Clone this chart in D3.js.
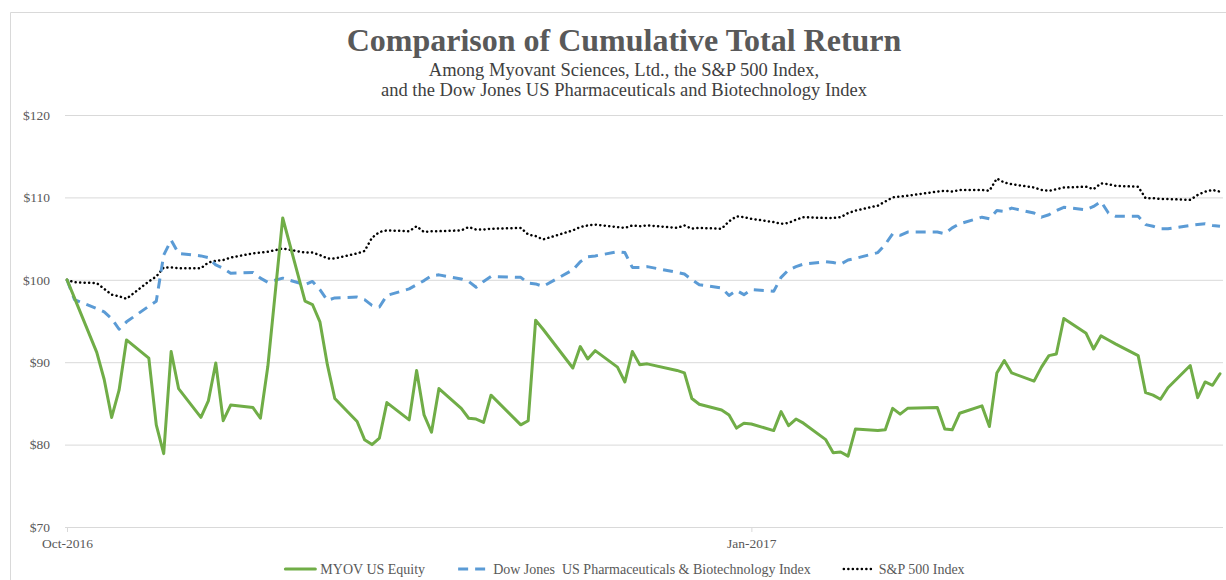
<!DOCTYPE html>
<html>
<head>
<meta charset="utf-8">
<script src="https://cdn.jsdelivr.net/npm/d3@7"></script>
<style>
  body { margin: 0; background: #fff; }
  svg { display: block; }
</style>
</head>
<body>
<svg id="chart"></svg>
<script>
// Data (trading days, value of $100 invested)
const dates = [
  "2016-10-27","2016-10-28","2016-10-31","2016-11-01","2016-11-02","2016-11-03","2016-11-04",
  "2016-11-07","2016-11-08","2016-11-09","2016-11-10","2016-11-11","2016-11-14","2016-11-15",
  "2016-11-16","2016-11-17","2016-11-18","2016-11-21","2016-11-22","2016-11-23","2016-11-25",
  "2016-11-28","2016-11-29","2016-11-30","2016-12-01","2016-12-02","2016-12-05","2016-12-06",
  "2016-12-07","2016-12-08","2016-12-09","2016-12-12","2016-12-13","2016-12-14","2016-12-15",
  "2016-12-16","2016-12-19","2016-12-20","2016-12-21","2016-12-22","2016-12-23","2016-12-27",
  "2016-12-28","2016-12-29","2016-12-30","2017-01-03","2017-01-04","2017-01-05","2017-01-06",
  "2017-01-09","2017-01-10","2017-01-11","2017-01-12","2017-01-13","2017-01-17","2017-01-18",
  "2017-01-19","2017-01-20","2017-01-23","2017-01-24","2017-01-25","2017-01-26","2017-01-27",
  "2017-01-30","2017-01-31","2017-02-01","2017-02-02","2017-02-03","2017-02-06","2017-02-07",
  "2017-02-08","2017-02-09","2017-02-10","2017-02-13","2017-02-14","2017-02-15","2017-02-16",
  "2017-02-17","2017-02-21","2017-02-22","2017-02-23","2017-02-24","2017-02-27","2017-02-28",
  "2017-03-01","2017-03-02","2017-03-03","2017-03-06","2017-03-07","2017-03-08","2017-03-09",
  "2017-03-10","2017-03-13","2017-03-14","2017-03-15","2017-03-16","2017-03-17","2017-03-20",
  "2017-03-21","2017-03-22","2017-03-23","2017-03-24","2017-03-27","2017-03-28","2017-03-29",
  "2017-03-30","2017-03-31"
];

const myov = [
  100.0, 97.8, 91.2, 87.9, 83.3, 86.6, 92.7,
  90.5, 82.4, 78.9, 91.3, 86.8, 83.3, 85.3,
  89.9, 82.9, 84.8, 84.5, 83.2, 89.5, 107.5,
  97.4, 97.0, 94.9, 89.7, 85.6, 82.8, 80.6,
  80.0, 80.8, 85.1, 83.0, 89.0, 83.6, 81.5,
  86.8, 84.4, 83.2, 83.1, 82.7, 86.0, 82.4,
  82.9, 95.1, 94.0, 89.3, 91.9, 90.4, 91.4,
  89.4, 87.6, 91.3, 89.7, 89.8, 89.0, 88.7,
  85.6, 84.9, 84.2, 83.6, 82.0, 82.6, 82.5,
  81.7, 84.0, 82.3, 83.1, 82.6, 80.6, 79.0,
  79.1, 78.6, 81.9, 81.7, 81.8, 84.4, 83.7,
  84.4, 84.5, 81.9, 81.8, 83.8, 84.7, 82.2,
  88.7, 90.2, 88.7, 87.7, 89.4, 90.8, 91.0,
  95.3, 93.5, 91.6, 93.2, 92.7, 92.2, 90.8,
  86.3, 86.0, 85.5, 86.9, 89.6, 85.7, 87.6,
  87.2, 88.6
];

const djPharma = [
  100.0, 97.6, 96.5, 96.1, 95.3, 94.0, 94.9,
  96.8, 97.4, 103.0, 104.8, 103.2, 102.9, 102.7,
  101.8, 101.4, 100.8, 100.9, 100.2, 99.7, 100.2,
  99.4, 99.8, 98.8, 97.5, 97.8, 97.9, 97.6,
  96.9, 96.7, 98.1, 98.9, 99.4, 99.9, 100.5,
  100.6, 100.1, 99.8, 99.1, 99.8, 100.4, 100.3,
  99.6, 99.5, 99.2, 101.2, 102.2, 102.8, 102.9,
  103.4, 103.3, 101.5, 101.5, 101.6, 100.9, 100.7,
  100.0, 99.4, 99.0, 98.1, 98.7, 98.2, 98.8,
  98.6, 100.3, 101.2, 101.6, 101.9, 102.2, 102.1,
  101.9, 102.4, 102.6, 103.3, 104.3, 105.6, 105.4,
  105.8, 105.8, 105.6, 106.3, 106.8, 107.6, 107.4,
  108.4, 108.3, 108.7, 108.1, 107.6, 107.9, 108.4,
  108.8, 108.5, 108.9, 109.5, 108.1, 107.7, 107.7,
  106.7, 106.5, 106.2, 106.2, 106.6, 106.7, 106.8,
  106.6, 106.5
];

const sp500 = [
  100.0, 99.7, 99.6, 98.9, 98.2, 98.0, 97.7,
  99.8, 100.4, 101.5, 101.5, 101.4, 101.4, 102.1,
  102.3, 102.4, 102.7, 103.2, 103.3, 103.4, 103.8,
  103.3, 103.3, 103.0, 102.6, 102.6, 103.2, 103.5,
  105.1, 105.8, 106.0, 105.9, 106.5, 105.8, 105.9,
  105.9, 106.0, 106.4, 106.1, 106.1, 106.2, 106.3,
  105.5, 105.3, 104.9, 106.0, 106.4, 106.6, 106.7,
  106.4, 106.3, 106.6, 106.5, 106.6, 106.3, 106.6,
  106.2, 106.3, 106.2, 107.1, 107.7, 107.6, 107.4,
  107.0, 106.8, 106.9, 107.3, 107.6, 107.5, 107.5,
  107.6, 108.1, 108.4, 109.0, 109.5, 110.0, 110.1,
  110.2, 110.7, 110.8, 110.7, 110.9, 110.9, 110.8,
  112.3, 111.8, 111.6, 111.2, 110.9, 110.8, 111.0,
  111.2, 111.3, 111.0, 111.7, 111.6, 111.4, 111.3,
  109.9, 109.9, 109.8, 109.8, 109.7, 110.3, 110.7,
  110.9, 110.7
];

const seriesNames = ["MYOV US Equity", "Dow Jones  US Pharmaceuticals & Biotechnology Index", "S&P 500 Index"];
const yTicks = [70, 80, 90, 100, 110, 120];
const xTickDates = ["2016-10-27", "2017-01-27"];

const title = "Comparison of Cumulative Total Return";
const subtitle = [
  "Among Myovant Sciences, Ltd., the S&P 500 Index,",
  "and the Dow Jones US Pharmaceuticals and Biotechnology Index"
];

// Layout
const width = 1226, height = 580;
const plotLeft = 65, plotRight = 1223, plotTop = 115, plotBottom = 527;
const serif = "'Liberation Serif', 'Times New Roman', serif";
const textColor = "#595959";

const parse = d3.timeParse("%Y-%m-%d");
const xDates = dates.map(parse);

const svg = d3.select("#chart")
  .attr("width", width)
  .attr("height", height);

// chart frame
svg.append("path")
  .attr("d", "M10.5," + height + "V12.5H" + width)
  .attr("fill", "none")
  .attr("stroke", "#d9d9d9");

const x = d3.scaleTime()
  .domain([xDates[0], xDates[xDates.length - 1]])
  .range([67, 1220]);

const y = d3.scaleLinear()
  .domain([70, 120])
  .range([plotBottom, plotTop]);

// y axis + gridlines
const yAxis = svg.append("g")
  .attr("transform", "translate(" + plotLeft + ",0)")
  .attr("font-family", serif)
  .call(d3.axisLeft(y)
    .tickValues(yTicks)
    .tickSize(-(plotRight - plotLeft))
    .tickPadding(15)
    .tickFormat(d => "$" + d));
yAxis.select(".domain").remove();
yAxis.selectAll(".tick line").attr("stroke", "#d9d9d9").attr("stroke-width", 1);
yAxis.selectAll(".tick text")
  .attr("fill", textColor)
  .style("font-family", serif)
  .style("font-size", "13.5px");

// x axis
const xAxis = svg.append("g")
  .attr("transform", "translate(0," + plotBottom + ")")
  .call(d3.axisBottom(x)
    .tickValues(xTickDates.map(parse))
    .tickSize(5)
    .tickPadding(6)
    .tickFormat(d3.timeFormat("%b-%Y")));
xAxis.select(".domain").remove();
xAxis.selectAll(".tick line").attr("stroke", "#d9d9d9");
xAxis.selectAll(".tick text")
  .attr("fill", textColor)
  .style("font-family", serif)
  .style("font-size", "13.5px");

// lines
const series = [
  { name: seriesNames[0], values: myov, color: "#70ad47", width: 3, dash: null, cap: "round" },
  { name: seriesNames[1], values: djPharma, color: "#5b9bd5", width: 3, dash: "10,7", cap: "butt" },
  { name: seriesNames[2], values: sp500, color: "#000000", width: 2.5, dash: "0.1,4.4", cap: "round" }
];

const line = d3.line()
  .x((d, i) => x(xDates[i]))
  .y(d => y(d));

// draw order: S&P and DJ first, MYOV on top like the reference
[series[2], series[1], series[0]].forEach(s => {
  svg.append("path")
    .datum(s.values)
    .attr("fill", "none")
    .attr("stroke", s.color)
    .attr("stroke-width", s.width)
    .attr("stroke-dasharray", s.dash)
    .attr("stroke-linecap", s.cap)
    .attr("stroke-linejoin", "round")
    .attr("d", line);
});

// titles
svg.append("text")
  .attr("x", 624)
  .attr("y", 51)
  .attr("text-anchor", "middle")
  .attr("fill", textColor)
  .style("font-family", serif)
  .style("font-weight", "bold")
  .style("font-size", "32px")
  .text(title);

svg.selectAll(".subtitle")
  .data(subtitle)
  .enter()
  .append("text")
  .attr("class", "subtitle")
  .attr("x", 624)
  .attr("y", (d, i) => 76 + i * 20)
  .attr("text-anchor", "middle")
  .attr("fill", "#404040")
  .style("font-family", serif)
  .style("font-size", "18.5px")
  .text(d => d);

// legend
const legend = svg.append("g").attr("transform", "translate(0,569)");
const sampleW = 30, sampleGap = 5, itemGap = 33;
let lx = 0;
series.forEach(s => {
  const g = legend.append("g").attr("transform", "translate(" + lx + ",0)");
  g.append("line")
    .attr("x1", 0).attr("x2", sampleW)
    .attr("y1", 0).attr("y2", 0)
    .attr("stroke", s.color)
    .attr("stroke-width", s.width)
    .attr("stroke-dasharray", s.dash)
    .attr("stroke-linecap", s.cap);
  const t = g.append("text")
    .attr("x", sampleW + sampleGap)
    .attr("y", 4.5)
    .attr("fill", textColor)
    .style("font-family", serif)
    .style("font-size", "14px")
    .style("white-space", "pre")
    .text(s.name);
  lx += sampleW + sampleGap + t.node().getComputedTextLength() + itemGap;
});
const legendW = lx - itemGap;
legend.attr("transform", "translate(" + (625 - legendW / 2) + ",569)");
</script>
</body>
</html>
